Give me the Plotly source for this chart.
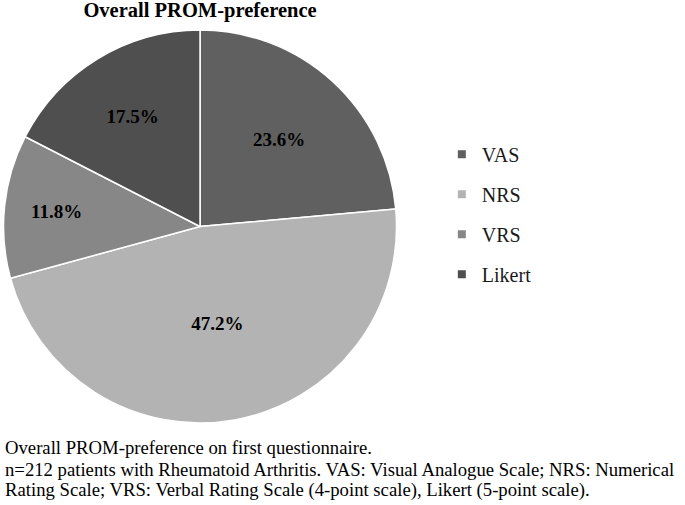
import plotly.graph_objects as go

labels = ["VAS", "NRS", "VRS", "Likert"]
counts = [50, 100, 25, 37]  # n=212 -> 23.6%, 47.2%, 11.8%, 17.5%
colors = ["#606060", "#b3b3b3", "#878787", "#4f4f4f"]

title_text = "Overall PROM-preference"
caption_lines = [
    "Overall PROM-preference on first questionnaire.",
    "n=212 patients with Rheumatoid Arthritis. VAS: Visual Analogue Scale; NRS: Numerical",
    "Rating Scale; VRS: Verbal Rating Scale (4-point scale), Likert (5-point scale).",
]
caption_y = [0.113, 0.071, 0.030]

serif = "Liberation Serif, Times New Roman, serif"

fig = go.Figure()
fig.add_trace(go.Pie(
    labels=labels, values=counts, sort=False, direction="clockwise", rotation=0,
    marker=dict(colors=colors, line=dict(color="white", width=1.5)),
    texttemplate="%{percent:.1%}", textposition="inside",
    insidetextorientation="horizontal",
    textfont=dict(family=serif, size=19, color="black", weight="bold"),
    domain=dict(x=[0.0044, 0.5796], y=[0.1624, 0.9406]),
    showlegend=False, hoverinfo="label+percent",
))
for lab, col in zip(labels, colors):
    fig.add_trace(go.Scatter(
        x=[None], y=[None], mode="markers", name=lab, legendgroup=lab,
        marker=dict(symbol="square", size=8, color=col),
    ))

fig.update_layout(
    width=685, height=505, margin=dict(l=0, r=0, t=0, b=0),
    paper_bgcolor="white", plot_bgcolor="white",
    xaxis=dict(visible=False), yaxis=dict(visible=False),
    title=dict(text=f"<b>{title_text}</b>", x=0.292, xanchor="center", y=0.995, yanchor="top",
               font=dict(family=serif, size=20.5, color="black")),
    legend=dict(x=0.645, y=0.733, xanchor="left", yanchor="top", tracegroupgap=11,
                font=dict(family=serif, size=20, color="#1a1a1a"), itemwidth=30),
    annotations=[dict(text=t, x=0.005, y=yy, xref="paper", yref="paper",
                      xanchor="left", yanchor="middle", align="left", showarrow=False,
                      font=dict(family=serif, size=18.7, color="black"))
                 for t, yy in zip(caption_lines, caption_y)],
)
fig.write_html("out.html", config={"displayModeBar": False},
               post_script="document.body.style.margin='0';")
